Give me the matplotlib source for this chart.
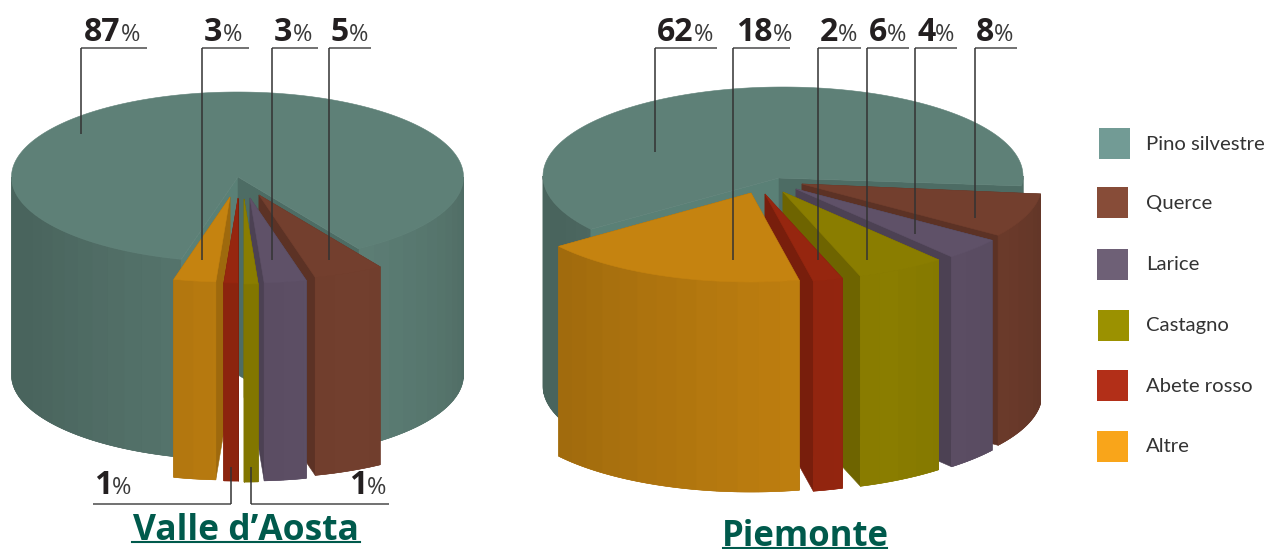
import numpy as np
import matplotlib
matplotlib.use("Agg")
import matplotlib.pyplot as plt
from matplotlib.patches import Polygon, Rectangle

# Legend order
SPECIES = ["Pino silvestre", "Querce", "Larice", "Castagno", "Abete rosso", "Altre"]
VALLE_VALUES = [87, 5, 3, 1, 1, 3]
PIEMONTE_VALUES = [62, 8, 4, 6, 2, 18]

LEGEND_COLORS = ["#729b95", "#874c38", "#6e6076", "#9b9100", "#b22f18", "#f9a51a"]
TOP_COLORS = ["#5e8077", "#733f2e", "#5f5168", "#8a7d00", "#96260f", "#c58310"]

# Layout of the two pies, all in image pixels
# slices go round from Altre to Querce, left to right along the front
SWEEP_ORDER = [5, 4, 3, 2, 1]
VALLE_PIE = dict(cx=237.5, cy=177, rx=226, ry=85, h=198, start=-14.4, pit=(238, 177))
PIEMONTE_PIE = dict(cx=783, cy=176, rx=240, ry=89, h=210, start=-53.2, pit=(779, 178))
# apex of each pulled-out slice, same order as SWEEP_ORDER
VALLE_APEX = [(230, 197), (238, 198), (244, 199), (250, 198), (259, 195)]
PIEMONTE_APEX = [(751, 193), (765, 194), (783, 192), (796, 189), (802, 184)]

# species index, hline x0, x1, hline y, vline x, vline end y, text x, text baseline
VALLE_LEADERS = [
    (0, 81, 147, 47.5, 81, 134, 84, 41),
    (5, 202, 249, 47.5, 202, 260, 204, 41),
    (2, 272, 318, 47.5, 272, 260, 274, 41),
    (1, 329, 371, 47.5, 329, 260, 331, 41),
    (4, 93, 231, 504, 231, 467, 94, 494),
    (3, 251, 389, 504, 251, 467, 349, 494),
]
PIEMONTE_LEADERS = [
    (0, 655, 717, 47.5, 655, 152, 657, 41),
    (5, 733, 790, 47.5, 733, 260, 736, 41),
    (4, 818, 861, 47.5, 818, 260, 820, 41),
    (3, 867, 909, 47.5, 867, 260, 869, 41),
    (2, 915, 957, 47.5, 915, 234, 917, 41),
    (1, 975, 1017, 47.5, 975, 218, 976, 41),
]

LEGEND_X = [1099, 1097, 1097, 1098, 1097, 1097]
LEGEND_Y = [128, 187, 249, 310, 370, 431]
NUMBER_FONT = ["Open Sans", "DejaVu Sans"]
LEGEND_FONT = ["Lato", "DejaVu Sans"]


def shade(color, f):
    rgb = np.array(matplotlib.colors.to_rgb(color)) * f
    return tuple(np.clip(rgb, 0, 1))


def wall_shade(theta):
    return 1 - 0.22 * min(abs(theta - 25) / 90, 1)


def arc(ox, oy, rx, ry, t0, t1):
    n = max(int(abs(t1 - t0)) + 2, 2)
    t = np.radians(np.linspace(t0, t1, n))
    return np.column_stack([ox + rx * np.sin(t), oy + ry * np.cos(t)])


def add_poly(ax, pts, color, z):
    ax.add_patch(Polygon(pts, closed=True, facecolor=color, edgecolor=color, lw=0.4, zorder=z))


def draw_wall(ax, ox, oy, rx, ry, h, t0, t1, color, z):
    # solid base so no seams show between the strips
    whole = arc(ox, oy, rx, ry, t0, t1)
    add_poly(ax, np.vstack([whole, whole[::-1] + [0, h]]), shade(color, wall_shade((t0 + t1) / 2)), z)
    # short flat strips, like the facets in the original
    edges = np.arange(t0, t1, 5.0)
    edges = np.append(edges, t1)
    for a, b in zip(edges[:-1], edges[1:]):
        top = arc(ox, oy, rx, ry, a, b)
        bottom = top[::-1] + [0, h]
        add_poly(ax, np.vstack([top, bottom]), shade(color, wall_shade((a + b) / 2)), z)


def draw_face(ax, apex, corner, h, color, z):
    pts = [apex, corner, (corner[0], corner[1] + h), (apex[0], apex[1] + h)]
    add_poly(ax, pts, color, z)


def draw_pie(ax, pie, values, apexes):
    cx, cy, rx, ry, h = pie["cx"], pie["cy"], pie["rx"], pie["ry"], pie["h"]
    start = pie["start"]
    spans = [values[i] * 3.6 for i in SWEEP_ORDER]
    end = start + sum(spans)

    # big slice first, it sits behind everything
    col = TOP_COLORS[0]
    draw_wall(ax, cx, cy, rx, ry, h, -90, start, col, 1)
    draw_wall(ax, cx, cy, rx, ry, h, end, 90, col, 1)
    left = arc(cx, cy, rx, ry, start, start)[0]
    right = arc(cx, cy, rx, ry, end, end)[0]
    draw_face(ax, pie["pit"], left, h, "#5a8076", 1.1)
    draw_face(ax, pie["pit"], right, h, "#4d6c64", 1.2)
    rim = arc(cx, cy, rx, ry, end, 360 + start)
    add_poly(ax, np.vstack([[pie["pit"]], rim]), col, 1.5)

    # outer slices first so the ones near the front overlap them
    t0 = start
    slices = []
    for k, i in enumerate(SWEEP_ORDER):
        t1 = t0 + spans[k]
        slices.append((abs((t0 + t1) / 2), t0, t1, i, apexes[k]))
        t0 = t1
    slices.sort(key=lambda s: -s[0])
    # cut faces all go under the walls and tops of the other slices
    for n, (_, a, b, i, apex) in enumerate(slices):
        edge = arc(apex[0], apex[1], rx, ry, a, b)
        draw_face(ax, apex, edge[0], h, shade(TOP_COLORS[i], 0.8), 2 + n * 0.1)
        draw_face(ax, apex, edge[-1], h, shade(TOP_COLORS[i], 0.8), 2 + n * 0.1)
    for n, (_, a, b, i, apex) in enumerate(slices):
        z = 3 + n
        col = TOP_COLORS[i]
        edge = arc(apex[0], apex[1], rx, ry, a, b)
        draw_wall(ax, apex[0], apex[1], rx, ry, h, a, b, col, z)
        add_poly(ax, np.vstack([[apex], edge]), col, z + 0.2)


def draw_leaders(ax, fig, leaders, values):
    renderer = fig.canvas.get_renderer()
    for i, x0, x1, yh, xv, yv, tx, ty in leaders:
        ax.plot([x0, x1], [yh, yh], color="#4a4a4a", lw=1.1, zorder=20, solid_capstyle="butt")
        ax.plot([xv, xv], [yh, yv], color="#333333", lw=1.1, zorder=20, solid_capstyle="butt")
        num = ax.text(tx, ty, str(values[i]), fontsize=23, fontweight="bold", family=NUMBER_FONT,
                      color="#231f20", va="baseline", ha="left", zorder=21)
        w = num.get_window_extent(renderer).width
        ax.text(tx + w, ty, "%", fontsize=17, family=NUMBER_FONT, color="#3a3a3a",
                va="baseline", ha="left", zorder=21)


def draw_title(ax, label, x0, x1, baseline, size):
    ax.text((x0 + x1) / 2, baseline, label, fontsize=size, fontweight="bold", family=NUMBER_FONT,
            color="#005a4c", ha="center", va="baseline", zorder=21)
    ax.plot([x0, x1], [baseline + 1.5, baseline + 1.5], color="#005a4c", lw=1.5, zorder=21)


fig = plt.figure(figsize=(12.67, 5.49), dpi=100)
ax = fig.add_axes([0, 0, 1, 1])
ax.set_xlim(0, 1267)
ax.set_ylim(549, 0)
ax.axis("off")

draw_pie(ax, VALLE_PIE, VALLE_VALUES, VALLE_APEX)
draw_pie(ax, PIEMONTE_PIE, PIEMONTE_VALUES, PIEMONTE_APEX)
draw_leaders(ax, fig, VALLE_LEADERS, VALLE_VALUES)
draw_leaders(ax, fig, PIEMONTE_LEADERS, PIEMONTE_VALUES)
draw_title(ax, "Valle d\u2019Aosta", 132, 360, 540, 25.5)
draw_title(ax, "Piemonte", 723, 887, 546, 25)

# Legend
for name, col, x, y in zip(SPECIES, LEGEND_COLORS, LEGEND_X, LEGEND_Y):
    ax.add_patch(Rectangle((x, y), 31, 31, facecolor=col, edgecolor="none"))
    ax.text(1146, y + 16, name, fontsize=14.6, family=LEGEND_FONT, color="#333333",
            va="center", ha="left")

plt.savefig("out.png", dpi=100)
